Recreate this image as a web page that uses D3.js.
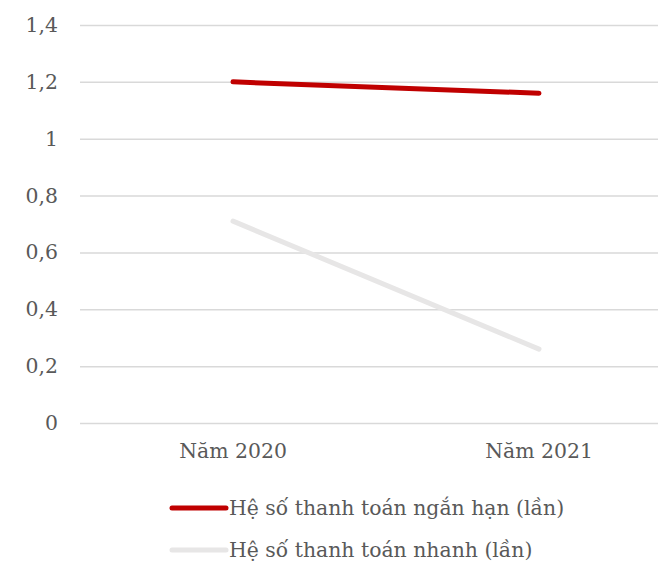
<!DOCTYPE html>
<html>
<head>
<meta charset="utf-8">
<script src="https://cdn.jsdelivr.net/npm/d3@7"></script>
<style>
  body { margin: 0; background: #fff; }
  svg { display: block; }
</style>
</head>
<body>
<div id="chart"></div>
<script>
// data
const years = ['Năm 2020', 'Năm 2021'];
const shortTerm = [1.20, 1.16];   // Hệ số thanh toán ngắn hạn
const quick = [0.71, 0.26];       // Hệ số thanh toán nhanh
const yTicks = [0, 0.2, 0.4, 0.6, 0.8, 1, 1.2, 1.4];
const seriesNames = ['Hệ số thanh toán ngắn hạn (lần)', 'Hệ số thanh toán nhanh (lần)'];
const seriesColors = ['#c00000', '#e7e6e6'];

const W = 658, H = 563;
const margin = {top: 25, left: 80};
const plotW = 612, plotH = 398;
const font = '"DejaVu Serif", serif';
const fontSize = 20.4;

const svg = d3.select('#chart').append('svg')
  .attr('width', W)
  .attr('height', H);

const x = d3.scaleBand()
  .domain(years)
  .range([margin.left, margin.left + plotW]);

const y = d3.scaleLinear()
  .domain([0, 1.4])
  .range([margin.top + plotH, margin.top]);

// gridlines + y labels
const yAxis = svg.append('g')
  .attr('transform', 'translate(' + margin.left + ',0)')
  .call(d3.axisLeft(y)
    .tickValues(yTicks)
    .tickSize(-plotW)
    .tickPadding(22)
    .tickFormat(d => String(d).replace('.', ',')));

yAxis.select('.domain').remove();
yAxis.selectAll('.tick line')
  .attr('stroke', '#d9d9d9')
  .attr('stroke-width', 1.5);
yAxis.selectAll('.tick text')
  .attr('fill', '#595959')
  .attr('font-size', fontSize)
  .attr('font-family', font);

// x labels
const xAxis = svg.append('g')
  .attr('transform', 'translate(0,' + (margin.top + plotH) + ')')
  .call(d3.axisBottom(x).tickSize(0).tickPadding(21));
xAxis.select('.domain').remove();
xAxis.selectAll('.tick text')
  .attr('fill', '#595959')
  .attr('font-size', fontSize)
  .attr('font-family', font);

const line = d3.line()
  .x((d, i) => x(years[i]) + x.bandwidth() / 2)
  .y(d => y(d));

[quick, shortTerm].forEach(function (vals, k) {
  svg.append('path')
    .datum(vals)
    .attr('fill', 'none')
    .attr('stroke', k === 0 ? seriesColors[1] : seriesColors[0])
    .attr('stroke-width', 5)
    .attr('stroke-linecap', 'round')
    .attr('d', line);
});

// legend
const legend = svg.append('g');
seriesNames.forEach(function (name, i) {
  const ly = 508 + i * 42;
  legend.append('line')
    .attr('x1', 172).attr('x2', 226)
    .attr('y1', ly).attr('y2', ly)
    .attr('stroke', seriesColors[i])
    .attr('stroke-width', 5)
    .attr('stroke-linecap', 'round');
  legend.append('text')
    .attr('x', 229)
    .attr('y', ly)
    .attr('dy', '0.35em')
    .attr('fill', '#595959')
    .attr('font-size', fontSize)
    .attr('font-family', font)
    .text(name);
});
</script>
</body>
</html>
